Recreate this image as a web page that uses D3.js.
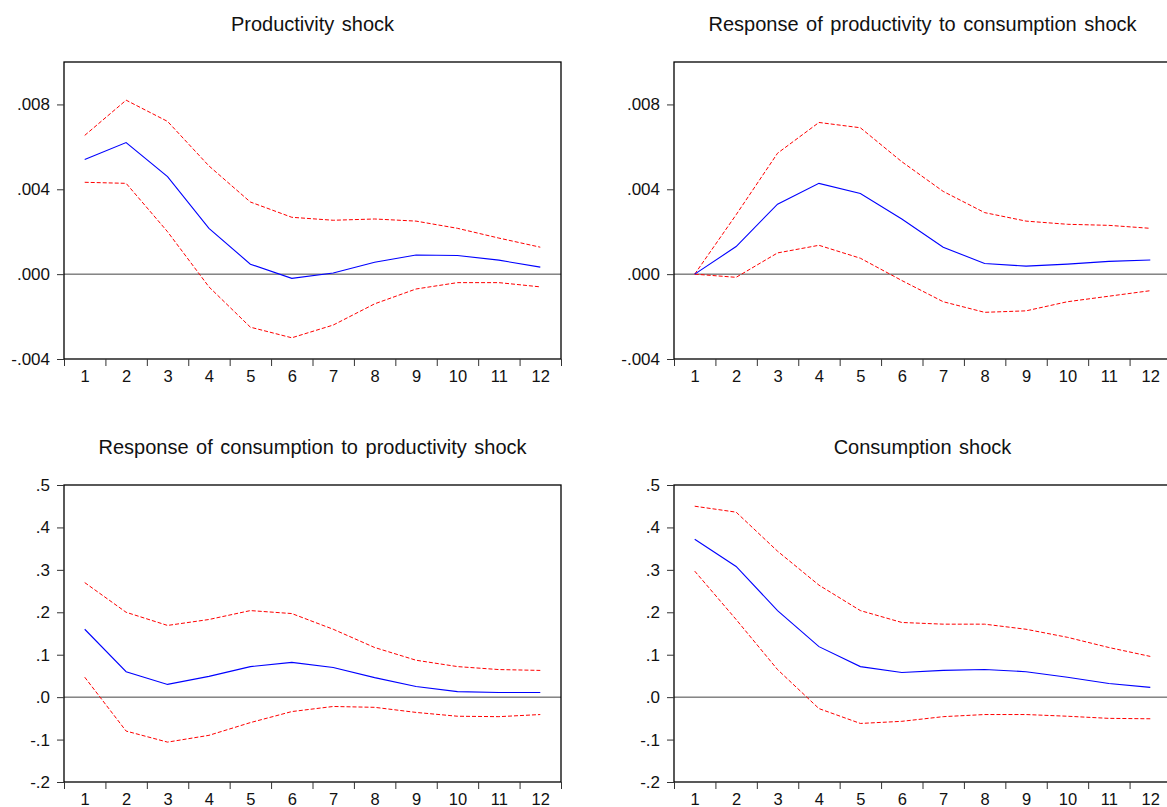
<!DOCTYPE html>
<html>
<head>
<meta charset="utf-8">
<script src="https://cdn.jsdelivr.net/npm/d3@7"></script>
<style>
  body { margin: 0; background: #fff; }
  svg { display: block; font-family: 'Liberation Sans', Arial, sans-serif; }
</style>
</head>
<body>
<div id="chart"></div>
<script>
const periods = [1, 2, 3, 4, 5, 6, 7, 8, 9, 10, 11, 12]

const titles = [
  'Productivity shock',
  'Response of productivity to consumption shock',
  'Response of consumption to productivity shock',
  'Consumption shock'
]

// panel 1: productivity shock
const prodMid = [0.0054, 0.0062, 0.0046, 0.00216, 0.00047, -0.0002, 0.00005, 0.00056, 0.0009, 0.00088, 0.00066, 0.00033]
const prodUp = [0.00654, 0.0082, 0.0072, 0.0051, 0.0034, 0.00268, 0.00254, 0.0026, 0.0025, 0.00216, 0.0017, 0.00127]
const prodLo = [0.00433, 0.00428, 0.002, -0.0006, -0.0025, -0.003, -0.0024, -0.0014, -0.0007, -0.0004, -0.0004, -0.0006]

// panel 2: productivity to consumption shock
const pcMid = [0, 0.0013, 0.0033, 0.00428, 0.0038, 0.0026, 0.00127, 0.0005, 0.00038, 0.00047, 0.0006, 0.00067]
const pcUp = [0, 0.0028, 0.0057, 0.00715, 0.0069, 0.0053, 0.0039, 0.0029, 0.0025, 0.00235, 0.0023, 0.00216]
const pcLo = [0, -0.00015, 0.001, 0.00136, 0.00075, -0.0003, -0.0013, -0.0018, -0.00173, -0.0013, -0.00104, -0.00078]

// panel 3: consumption to productivity shock
const cpMid = [0.16, 0.06, 0.03, 0.049, 0.072, 0.082, 0.07, 0.046, 0.025, 0.013, 0.011, 0.011]
const cpUp = [0.27, 0.2, 0.169, 0.183, 0.204, 0.197, 0.16, 0.117, 0.087, 0.072, 0.065, 0.063]
const cpLo = [0.047, -0.08, -0.106, -0.09, -0.06, -0.034, -0.022, -0.024, -0.036, -0.045, -0.046, -0.041]

// panel 4: consumption shock
const consMid = [0.372, 0.308, 0.204, 0.119, 0.072, 0.058, 0.063, 0.065, 0.06, 0.047, 0.032, 0.023]
const consUp = [0.45, 0.436, 0.344, 0.264, 0.204, 0.176, 0.172, 0.172, 0.16, 0.141, 0.117, 0.096]
const consLo = [0.297, 0.183, 0.065, -0.027, -0.062, -0.057, -0.046, -0.041, -0.041, -0.045, -0.05, -0.051]

const smallTicks = [-0.004, 0, 0.004, 0.008]
const smallTickLabels = ['-.004', '.000', '.004', '.008']
const bigTicks = [-0.2, -0.1, 0, 0.1, 0.2, 0.3, 0.4, 0.5]
const bigTickLabels = ['-.2', '-.1', '.0', '.1', '.2', '.3', '.4', '.5']

const width = 1167
const height = 807
const plotW = 497
const plotH = 297

const panels = [
  { title: titles[0], left: 64, top: 62, domain: [-0.004, 0.010], ticks: smallTicks, labels: smallTickLabels, mid: prodMid, up: prodUp, lo: prodLo },
  { title: titles[1], left: 674, top: 62, domain: [-0.004, 0.010], ticks: smallTicks, labels: smallTickLabels, mid: pcMid, up: pcUp, lo: pcLo },
  { title: titles[2], left: 64, top: 485, domain: [-0.2, 0.5], ticks: bigTicks, labels: bigTickLabels, mid: cpMid, up: cpUp, lo: cpLo },
  { title: titles[3], left: 674, top: 485, domain: [-0.2, 0.5], ticks: bigTicks, labels: bigTickLabels, mid: consMid, up: consUp, lo: consLo }
]

const svg = d3.select('#chart').append('svg')
  .attr('width', width)
  .attr('height', height)

const drawPanel = p => {
  const g = svg.append('g').attr('transform', `translate(${p.left},${p.top})`)

  const x = d3.scaleLinear().domain([0.5, 12.5]).range([0, plotW])
  const y = d3.scaleLinear().domain(p.domain).range([plotH, 0])

  g.append('text')
    .attr('x', plotW / 2)
    .attr('y', -31)
    .attr('text-anchor', 'middle')
    .attr('font-size', 20)
    .attr('word-spacing', 2)
    .attr('fill', '#111')
    .text(p.title)

  // zero line
  g.append('line')
    .attr('x1', 0).attr('x2', plotW)
    .attr('y1', y(0)).attr('y2', y(0))
    .attr('stroke', '#444').attr('stroke-width', 1)

  const line = d3.line().x((d, i) => x(periods[i])).y(d => y(d))

  g.append('path').datum(p.up).attr('d', line)
    .attr('fill', 'none').attr('stroke', '#ff0000').attr('stroke-width', 1)
    .attr('stroke-dasharray', '4,2')
  g.append('path').datum(p.lo).attr('d', line)
    .attr('fill', 'none').attr('stroke', '#ff0000').attr('stroke-width', 1)
    .attr('stroke-dasharray', '4,2')
  g.append('path').datum(p.mid).attr('d', line)
    .attr('fill', 'none').attr('stroke', '#0000ff').attr('stroke-width', 1.1)

  // frame
  g.append('rect')
    .attr('x', 0).attr('y', 0)
    .attr('width', plotW).attr('height', plotH)
    .attr('fill', 'none').attr('stroke', '#000').attr('stroke-width', 1.3)

  const yAxis = d3.axisLeft(y)
    .tickValues(p.ticks)
    .tickFormat((d, i) => p.labels[i])
    .tickSize(7)
    .tickPadding(7)
  const ya = g.append('g').call(yAxis)
  ya.select('.domain').remove()
  ya.selectAll('text').attr('font-size', 17).attr('fill', '#111').attr('font-family', 'Liberation Sans, Arial, sans-serif')
  ya.selectAll('line').attr('stroke', '#333')

  const xTicks = d3.axisBottom(x)
    .tickValues(d3.range(0.5, 13, 1))
    .tickFormat('')
    .tickSize(7)
  const xt = g.append('g').attr('transform', `translate(0,${plotH})`).call(xTicks)
  xt.select('.domain').remove()
  xt.selectAll('line').attr('stroke', '#333')

  const xLabels = d3.axisBottom(x)
    .tickValues(periods)
    .tickSize(0)
    .tickPadding(11)
  const xl = g.append('g').attr('transform', `translate(0,${plotH})`).call(xLabels)
  xl.select('.domain').remove()
  xl.selectAll('text').attr('font-size', 16.5).attr('fill', '#111').attr('font-family', 'Liberation Sans, Arial, sans-serif')
}

panels.forEach(drawPanel)
</script>
</body>
</html>
